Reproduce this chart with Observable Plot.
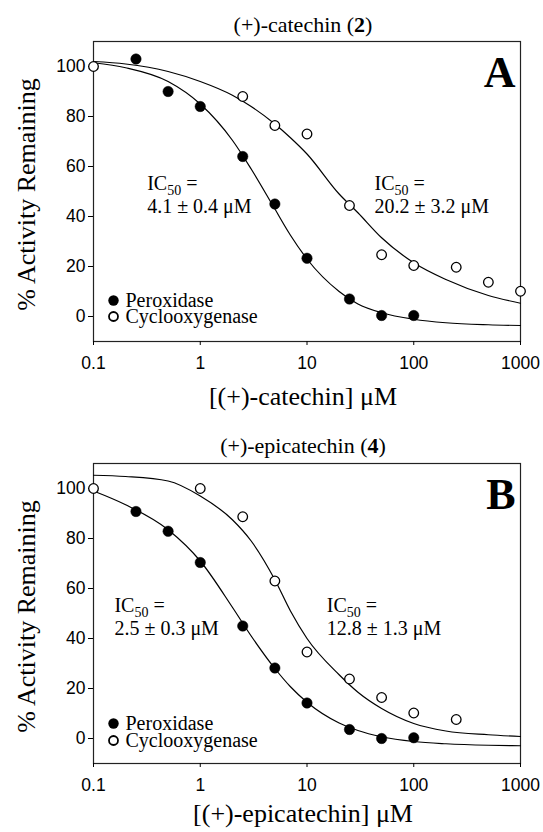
<!DOCTYPE html>
<html><head><meta charset="utf-8">
<script src="https://cdn.jsdelivr.net/npm/d3@7"></script>
<script src="https://cdn.jsdelivr.net/npm/@observablehq/plot@0.6"></script>
<style>
body{margin:0;background:#fff}
#chart{width:543px}
#chart svg{display:block;background:#fff}
</style>
</head><body><div id="chart"></div>
<script>
// ---- axes ----
const xTicks = [0.1, 1, 10, 100, 1000];
const xTickLabels = ["0.1", "1", "10", "100", "1000"];
const yTicks = [0, 20, 40, 60, 80, 100];
const seriesNames = ["Peroxidase", "Cyclooxygenase"];

// ---- Panel A: (+)-catechin (2) ----
const catPerX = [0.25, 0.5, 1, 2.5, 5, 10, 25, 50, 100];
const catPerY = [103, 90, 84, 64, 45, 23.3, 7, 0.4, 0.4];
const catCoxX = [0.1, 2.5, 5, 10, 25, 50, 100, 250, 500, 1000];
const catCoxY = [100, 88, 76.4, 73, 44.4, 24.7, 20.4, 19.7, 13.7, 10.1];
const fitX = [0.1, 0.2, 0.5, 1, 2, 3, 5, 7, 10, 20, 30, 50, 100, 200, 500, 1000];
const catPerFitY = [101.5, 99.5, 94, 85, 70.5, 59, 43, 32.5, 23, 10, 5, 1.5, -1.1, -2.5, -3.3, -3.6];
const catCoxFitY = [102, 101, 98, 94, 88.5, 84, 77, 71.5, 65, 49, 41.5, 31.5, 21.5, 14.8, 8.4, 5.3];

// ---- Panel B: (+)-epicatechin (4) ----
const epiPerX = [0.25, 0.5, 1, 2.5, 5, 10, 25, 50, 100];
const epiPerY = [90.8, 82.9, 70.4, 45, 28.2, 14.2, 3.6, 0, 0.3];
const epiCoxX = [0.1, 1, 2.5, 5, 10, 25, 50, 100, 250];
const epiCoxY = [100, 100, 88.7, 63, 34.6, 23.8, 16.4, 10.2, 7.6];
const epiPerFitY = [99, 93.5, 83.5, 71, 52.5, 41, 28, 20.7, 14.5, 6.2, 3.2, 0.7, -1.2, -2.1, -2.7, -2.9];
const epiCoxFitY = [105.3, 104.8, 103, 97, 87.5, 79, 63.5, 51, 40, 25.5, 18.5, 12, 6, 3, 1.5, 0.8];

const SERIF = "'Liberation Serif', 'Times New Roman', serif";
const SANS = "'Liberation Sans', Arial, sans-serif";

function zip(xs, ys) { return xs.map((x, i) => ({x, y: ys[i]})); }

function panel(cfg) {
  const W = 543, H = 416, mL = 93, mR = 23;
  const svg = Plot.plot({
    width: W, height: H,
    marginLeft: mL, marginRight: mR, marginTop: cfg.mT, marginBottom: cfg.mB,
    style: {fontFamily: SERIF, fontSize: "20px", color: "black", background: "white"},
    x: {type: "log", domain: [0.1, 1000], axis: null},
    y: {domain: [-10, 110], axis: null},
    marks: [
      Plot.frame({stroke: "#222", strokeWidth: 1.2}),
      Plot.axisX({ticks: xTicks, tickFormat: d => xTickLabels[xTicks.indexOf(d)], tickSize: 4, tickPadding: 11,
        fontSize: 17.5, fontFamily: SANS, label: null, anchor: "bottom"}),
      Plot.axisY({ticks: yTicks, tickSize: 5, tickPadding: 3, fontSize: 17.5, fontFamily: SANS, label: null, anchor: "left"}),
      Plot.line(zip(fitX, cfg.perFit), {x: "x", y: "y", stroke: "black", strokeWidth: 1.2, curve: "monotone-x"}),
      Plot.line(zip(fitX, cfg.coxFit), {x: "x", y: "y", stroke: "black", strokeWidth: 1.2, curve: "monotone-x"}),
      Plot.dot(zip(cfg.perX, cfg.perY), {x: "x", y: "y", r: 5.2, fill: "black", stroke: "black", strokeWidth: 0.5}),
      Plot.dot(zip(cfg.coxX, cfg.coxY), {x: "x", y: "y", r: 4.8, fill: "white", stroke: "black", strokeWidth: 1.3}),
      // title
      Plot.text([cfg.title], {frameAnchor: "top", dy: cfg.titleDy, dx: -4, fontSize: 22, lineAnchor: "middle", textAnchor: "middle"}),
      // axis labels
      Plot.text([cfg.xLabel], {frameAnchor: "bottom", dy: cfg.xLabelDy, dx: -4, fontSize: 26, lineAnchor: "middle", textAnchor: "middle"}),
      Plot.text(["% Activity Remaining"], {frameAnchor: "left", dx: -67, dy: 3, rotate: -90, fontSize: 26, lineAnchor: "middle", textAnchor: "middle"}),
      // panel letter
      Plot.text([cfg.letter], {frameAnchor: "top-right", dx: -5, dy: 31, fontSize: 44, fontWeight: "bold", textAnchor: "end", lineAnchor: "middle"}),
      // IC50 annotations
      Plot.text(["IC50 =", cfg.ann1], {x: [cfg.annX1, cfg.annX1], y: [53, 44], textAnchor: "start", fontSize: 20, lineAnchor: "middle"}),
      Plot.text(["IC50 =", cfg.ann2], {x: [cfg.annX2, cfg.annX2], y: [53, 44], textAnchor: "start", fontSize: 20, lineAnchor: "middle"}),
      // legend
      Plot.dot([0], {frameAnchor: "top-left", dx: 20, dy: cfg.legDy[0], r: 5.2, fill: "black"}),
      Plot.dot([0], {frameAnchor: "top-left", dx: 20, dy: cfg.legDy[1], r: 4.5, fill: "white", stroke: "black", strokeWidth: 1.8}),
      Plot.text([seriesNames[0]], {frameAnchor: "top-left", dx: 32, dy: cfg.legDy[0], textAnchor: "start", fontSize: 20, lineAnchor: "middle"}),
      Plot.text([seriesNames[1]], {frameAnchor: "top-left", dx: 32, dy: cfg.legDy[1], textAnchor: "start", fontSize: 20, lineAnchor: "middle"})
    ]
  });
  // rich text: subscripts and bold compound number
  svg.querySelectorAll("text").forEach(el => {
    const t = el.textContent;
    const ns = "http://www.w3.org/2000/svg";
    if (t === "IC50 =") {
      el.textContent = "";
      el.appendChild(document.createTextNode("IC"));
      const s = document.createElementNS(ns, "tspan");
      s.setAttribute("font-size", "14"); s.setAttribute("dy", "5"); s.textContent = "50";
      el.appendChild(s);
      const e = document.createElementNS(ns, "tspan");
      e.setAttribute("dy", "-5"); e.textContent = " =";
      el.appendChild(e);
    } else if (t === cfg.title) {
      const m = t.match(/^(.*\()(\d+)(\))$/);
      if (m) {
        el.textContent = "";
        el.appendChild(document.createTextNode(m[1]));
        const b = document.createElementNS(ns, "tspan");
        b.setAttribute("font-weight", "bold"); b.textContent = m[2];
        el.appendChild(b);
        el.appendChild(document.createTextNode(m[3]));
      }
    }
  });
  return svg;
}

const chart = document.getElementById("chart");
chart.appendChild(panel({
  title: "(+)-catechin (2)", xLabel: "[(+)-catechin] μM", letter: "A",
  perX: catPerX, perY: catPerY, coxX: catCoxX, coxY: catCoxY,
  perFit: catPerFitY, coxFit: catCoxFitY,
  ann1: "4.1 ± 0.4 μM", ann2: "20.2 ± 3.2 μM", annX1: 0.318, annX2: 42.9,
  mT: 41, mB: 75, titleDy: -17, xLabelDy: 55, legDy: [259, 275]
}));
chart.appendChild(panel({
  title: "(+)-epicatechin (4)", xLabel: "[(+)-epicatechin] μM", letter: "B",
  perX: epiPerX, perY: epiPerY, coxX: epiCoxX, coxY: epiCoxY,
  perFit: epiPerFitY, coxFit: epiCoxFitY,
  ann1: "2.5 ± 0.3 μM", ann2: "12.8 ± 1.3 μM", annX1: 0.157, annX2: 15.3,
  mT: 47, mB: 69, titleDy: -18, xLabelDy: 50, legDy: [260, 277]
}));
</script>
</body></html>
